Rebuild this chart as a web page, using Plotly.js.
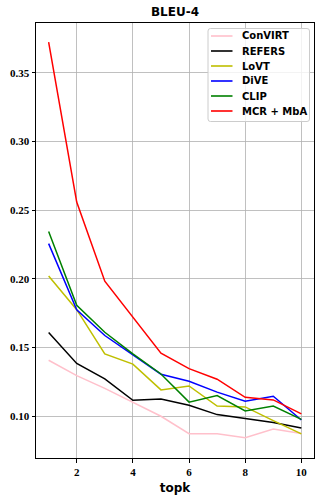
<!DOCTYPE html>
<html>
<head>
<meta charset="utf-8">
<script src="https://cdn.plot.ly/plotly-3.0.1.min.js"></script>
<style>
  body { margin: 0; background: #fff; }
  #chart { width: 321px; height: 500px; }
</style>
</head>
<body>
<div id="chart"></div>
<script>
var topk = [1, 2, 3, 4, 5, 6, 7, 8, 9, 10];

var convirt = [0.1408, 0.1296, 0.1203, 0.1100, 0.1000, 0.0873, 0.0873, 0.0844, 0.0907, 0.0875];
var refers = [0.1610, 0.1385, 0.1272, 0.1116, 0.1126, 0.1080, 0.1012, 0.0985, 0.0955, 0.0915];
var lovt = [0.2021, 0.1776, 0.1454, 0.1380, 0.1192, 0.1221, 0.1074, 0.1068, 0.0968, 0.0872];
var dive = [0.2257, 0.1775, 0.1588, 0.1445, 0.1306, 0.1255, 0.1176, 0.1109, 0.1146, 0.0973];
var clip = [0.2345, 0.1808, 0.1612, 0.1455, 0.1308, 0.1103, 0.1151, 0.1039, 0.1074, 0.0977];
var mcr = [0.3725, 0.2560, 0.1984, 0.1720, 0.1459, 0.1347, 0.1270, 0.1138, 0.1119, 0.1017];

var names = ["ConVIRT", "REFERS", "LoVT", "DiVE", "CLIP", "MCR + MbA"];
var colors = ["#ffc0cb", "#000000", "#bfbf00", "#0000ff", "#008000", "#ff0000"];
var series = [convirt, refers, lovt, dive, clip, mcr];

// plot area in pixels, used to place the hand-made legend
var L = 36, R = 314, T = 23, B = 458;
function px(x) { return (x - L) / (R - L); }
function py(y) { return 1 - (y - T) / (B - T); }

var data = [];
for (var i = 0; i < series.length; i++) {
    data.push({
        x: topk,
        y: series[i],
        name: names[i],
        type: "scatter",
        mode: "lines",
        line: { color: colors[i], width: 1.5 },
        showlegend: false
    });
}

// legend box, slightly rounded like matplotlib's
var bx0 = 208, bx1 = 309.5, by0 = 28.5, by1 = 121.5, r = 2.5;
var boxPath = "M " + px(bx0 + r) + " " + py(by0) +
    " L " + px(bx1 - r) + " " + py(by0) +
    " Q " + px(bx1) + " " + py(by0) + " " + px(bx1) + " " + py(by0 + r) +
    " L " + px(bx1) + " " + py(by1 - r) +
    " Q " + px(bx1) + " " + py(by1) + " " + px(bx1 - r) + " " + py(by1) +
    " L " + px(bx0 + r) + " " + py(by1) +
    " Q " + px(bx0) + " " + py(by1) + " " + px(bx0) + " " + py(by1 - r) +
    " L " + px(bx0) + " " + py(by0 + r) +
    " Q " + px(bx0) + " " + py(by0) + " " + px(bx0 + r) + " " + py(by0) + " Z";

var shapes = [{
    type: "path",
    xref: "paper", yref: "paper",
    path: boxPath,
    fillcolor: "rgba(255,255,255,0.8)",
    line: { color: "#cccccc", width: 1 },
    layer: "above"
}];
var annotations = [];
for (var j = 0; j < names.length; j++) {
    var rowY = 36 + 15 * j;
    shapes.push({
        type: "line",
        xref: "paper", yref: "paper",
        x0: px(211), x1: px(232.5),
        y0: py(rowY), y1: py(rowY),
        line: { color: colors[j], width: 2 },
        opacity: 0.8,
        layer: "above"
    });
    annotations.push({
        xref: "paper", yref: "paper",
        x: px(240), y: py(rowY),
        xanchor: "left", yanchor: "middle",
        text: names[j],
        showarrow: false,
        font: { family: "DejaVu Sans", size: 10, weight: "bold", color: "#000" }
    });
}

var tickFont = { family: "'Liberation Serif', 'Times New Roman', serif", size: 11, color: "#000", weight: "bold" };

var layout = {
    width: 321,
    height: 500,
    margin: { l: L, r: 321 - R, t: T, b: 500 - B },
    paper_bgcolor: "#fff",
    plot_bgcolor: "#fff",
    font: { family: "DejaVu Sans", color: "#000" },
    title: {
        text: "BLEU-4",
        font: { family: "DejaVu Sans", size: 12, weight: "bold", color: "#000" },
        x: 0.5,
        xref: "paper",
        y: 0.976,
        yref: "container",
        yanchor: "middle"
    },
    xaxis: {
        range: [0.55, 10.45],
        tickvals: [2, 4, 6, 8, 10],
        ticks: "outside",
        ticklen: 3.5,
        tickcolor: "#000",
        tickfont: tickFont,
        showgrid: true,
        gridcolor: "#b0b0b0",
        gridwidth: 0.8,
        zeroline: false,
        showline: true,
        linecolor: "#000",
        linewidth: 1,
        mirror: true,
        title: {
            text: "topk",
            font: { family: "DejaVu Sans", size: 12, weight: "bold", color: "#000" },
            standoff: 6
        }
    },
    yaxis: {
        range: [0.0696, 0.3864],
        tickvals: [0.10, 0.15, 0.20, 0.25, 0.30, 0.35],
        tickformat: ".2f",
        ticks: "outside",
        ticklen: 3.5,
        tickcolor: "#000",
        tickfont: tickFont,
        showgrid: true,
        gridcolor: "#b0b0b0",
        gridwidth: 0.8,
        zeroline: false,
        showline: true,
        linecolor: "#000",
        linewidth: 1,
        mirror: true
    },
    shapes: shapes,
    annotations: annotations,
    showlegend: false
};

Plotly.newPlot("chart", data, layout, { displayModeBar: false, staticPlot: true });
</script>
</body>
</html>
